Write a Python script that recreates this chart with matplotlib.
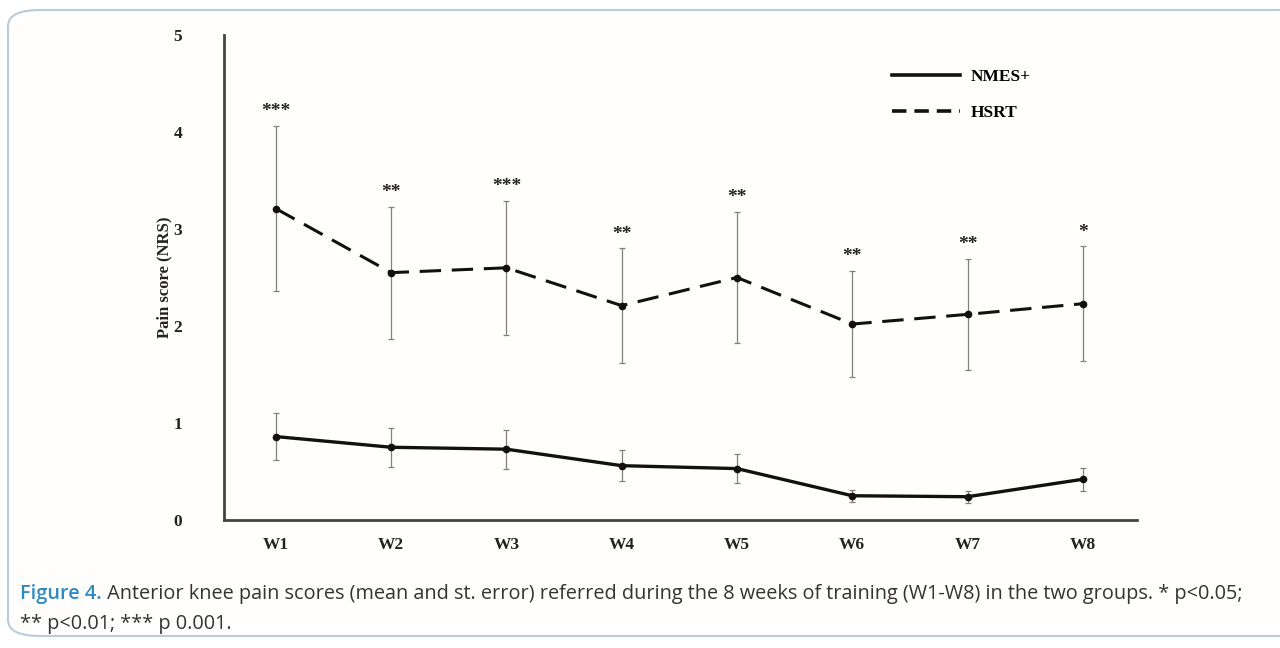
import numpy as np
import matplotlib.pyplot as plt
from matplotlib.patches import FancyBboxPatch
from matplotlib.lines import Line2D

weeks = ['W1', 'W2', 'W3', 'W4', 'W5', 'W6', 'W7', 'W8']
nmes_mean = [0.86, 0.75, 0.73, 0.56, 0.53, 0.25, 0.24, 0.42]
nmes_err = [0.24, 0.20, 0.20, 0.16, 0.15, 0.06, 0.06, 0.12]
hsrt_mean = [3.21, 2.55, 2.60, 2.21, 2.50, 2.02, 2.12, 2.23]
hsrt_err = [0.85, 0.68, 0.69, 0.59, 0.68, 0.55, 0.57, 0.59]
stars = ['***', '**', '***', '**', '**', '**', '**', '*']

caption_head = 'Figure 4.'
caption_body = (' Anterior knee pain scores (mean and st. error) referred during the 8 weeks '
                'of training (W1-W8) in the two groups. * p<0.05;')
caption_line2 = '** p<0.01; *** p 0.001.'

serif = 'Liberation Serif'
dash = (0, (7, 3.5))

fig = plt.figure(figsize=(12.8, 6.48), dpi=100)
fig.patch.set_facecolor('white')

# rounded frame around figure + caption
frame = FancyBboxPatch((8 / 1280, 12 / 648), 1300 / 1280, 626 / 648,
                       boxstyle='round,pad=0,rounding_size=0.025',
                       transform=fig.transFigure, facecolor='#fffefc',
                       edgecolor='#b9ccd9', linewidth=1.5, zorder=-5)
fig.patches.append(frame)

ax = fig.add_axes([224 / 1280, 1 - 520 / 648, (1137 - 224) / 1280, (520 - 35) / 648])
ax.set_facecolor('none')

x = np.arange(len(weeks))

ax.errorbar(x, nmes_mean, yerr=nmes_err, fmt='none', ecolor='#808080',
            elinewidth=0.9, capsize=2, capthick=0.9, zorder=2)
ax.errorbar(x, hsrt_mean, yerr=hsrt_err, fmt='none', ecolor='#808080',
            elinewidth=0.9, capsize=2, capthick=0.9, zorder=2)

ax.plot(x, nmes_mean, color='#111111', lw=2.4, marker='o', ms=4.5, zorder=3)
ax.plot(x, hsrt_mean, color='#111111', lw=2.2, ls=dash, marker='o', ms=4.5, zorder=3)

for xi, m, e, s in zip(x, hsrt_mean, hsrt_err, stars):
    ax.text(xi, m + e + 0.06, s, ha='center', va='bottom', fontsize=14,
            fontweight='bold', family=serif, color='#222222')

ax.set_xlim(-0.45, 7.47)
ax.set_ylim(0, 5)
ax.set_yticks([0, 1, 2, 3, 4, 5])
ax.set_xticks(x)
ax.set_xticklabels(weeks)

for sp in ['top', 'right']:
    ax.spines[sp].set_visible(False)
for sp in ['left', 'bottom']:
    ax.spines[sp].set_color('#444444')
    ax.spines[sp].set_linewidth(2)

ax.tick_params(axis='y', length=0, pad=30)
ax.tick_params(axis='x', length=0, pad=12)
for lab in ax.get_xticklabels() + ax.get_yticklabels():
    lab.set_family(serif)
    lab.set_fontweight('bold')
    lab.set_fontsize(12.5)
    lab.set_color('#222222')

ax.set_ylabel('Pain score (NRS)', family=serif, fontweight='bold', fontsize=12,
              color='#222222')
ax.yaxis.set_label_coords(-0.057, 0.5)

handles = [Line2D([], [], color='#111111', lw=2.6),
           Line2D([], [], color='#111111', lw=2.6, ls=(0, (4, 2.2)))]
ax.legend(handles, ['NMES+', 'HSRT'], loc='upper left', bbox_to_anchor=(0.715, 0.962),
          frameon=False, handlelength=3.9, labelspacing=1.15, handletextpad=0.6,
          prop={'family': serif, 'weight': 'bold', 'size': 12.5})

# caption
t1 = fig.text(20 / 1280, 1 - 594 / 648, caption_head, color='#2f8ac4',
              fontsize=14.3, family='Open Sans', va='center', fontweight='semibold')
fig.canvas.draw()
bb = t1.get_window_extent()
fig.text(bb.x1 / 1280, 1 - 594 / 648, caption_body, color='#333333',
         fontsize=14.3, family='Open Sans', va='center')
fig.text(20 / 1280, 1 - 624 / 648, caption_line2, color='#333333',
         fontsize=14.3, family='Open Sans', va='center')

fig.savefig('out.png', dpi=100)
